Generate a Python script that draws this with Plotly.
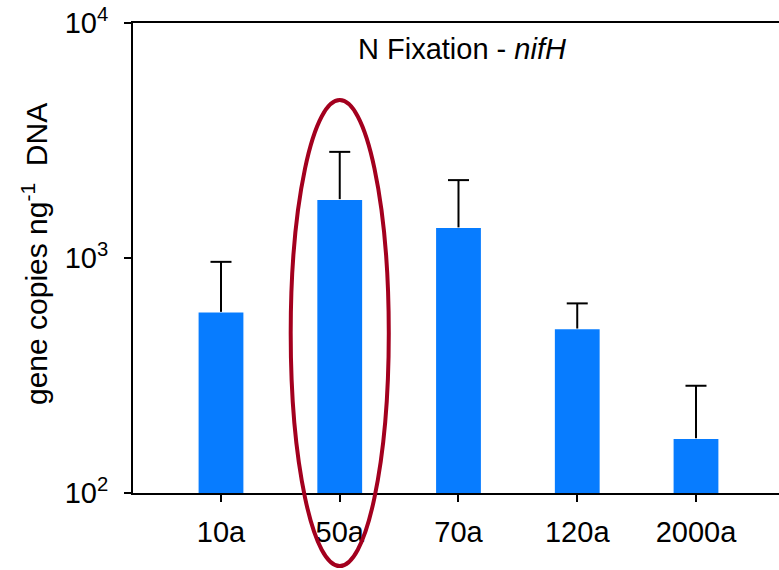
import plotly.graph_objects as go

categories = ["10a", "50a", "70a", "120a", "2000a"]
values = [590, 1780, 1350, 501, 171]
err_plus = [373, 1049, 795, 140, 115]
y_tickvals = [100, 1000, 10000]
y_ticktext = ["10<sup>2</sup>", "10<sup>3</sup>", "10<sup>4</sup>"]

FONT = "Liberation Sans, Arial, sans-serif"
BAR = "#077CFF"
RED = "#A3001E"
FS = 29

x_range = [-0.741, 4.699]
y_range_log = [2, 4]

fig = go.Figure()
fig.add_trace(go.Bar(
    x=categories, y=values, width=0.39,
    marker=dict(color=BAR, line=dict(color="white", width=1.5)),
    error_y=dict(type="data", symmetric=False, array=err_plus,
                 arrayminus=[0] * len(values), width=0, thickness=2, color="black"),
    showlegend=False,
))
tops = [v + e for v, e in zip(values, err_plus)]
fig.add_trace(go.Scatter(
    x=categories, y=tops, mode="markers",
    marker=dict(symbol="line-ew", size=15, line=dict(color="black", width=2)),
    showlegend=False, hoverinfo="skip",
))

def xp(idx):
    return (idx - x_range[0]) / (x_range[1] - x_range[0])

def yp(logv):
    return (logv - y_range_log[0]) / (y_range_log[1] - y_range_log[0])

# highlight ellipse around the 50a bar
hl = categories.index("50a")
fig.add_shape(type="circle", xref="paper", yref="paper",
              x0=xp(hl - 0.413), x1=xp(hl + 0.413),
              y0=yp(1.689), y1=yp(3.672),
              line=dict(color=RED, width=4), layer="above")

fig.add_annotation(text="N Fixation - <i>nifH</i>", xref="paper", yref="paper",
                   x=0.509, y=0.945, showarrow=False, xanchor="center", yanchor="middle",
                   font=dict(family=FONT, size=FS, color="black"))
fig.add_annotation(text="gene copies ng<sup>-1</sup>&nbsp; DNA", xref="paper", yref="paper",
                   x=-0.152, y=0.508, showarrow=False, textangle=-90,
                   xanchor="center", yanchor="middle",
                   font=dict(family=FONT, size=30, color="black"))

fig.update_layout(
    width=779, height=570,
    margin=dict(l=133, r=0, t=23, b=77),
    paper_bgcolor="white", plot_bgcolor="white",
    font=dict(family=FONT, size=FS, color="black"),
    bargap=0.6,
    xaxis=dict(type="category", range=x_range, showgrid=False, zeroline=False,
               showline=True, linecolor="black", linewidth=2, mirror=True,
               ticks="outside", ticklen=7, tickwidth=2, tickcolor="black",
               ticklabelstandoff=5,
               layer="below traces", tickfont=dict(family=FONT, size=FS)),
    yaxis=dict(type="log", range=y_range_log, showgrid=False, zeroline=False,
               showline=True, linecolor="black", linewidth=2,
               ticks="outside", ticklen=7, tickwidth=2, tickcolor="black",
               ticklabelstandoff=10,
               tickvals=y_tickvals, ticktext=y_ticktext,
               tickfont=dict(family=FONT, size=FS)),
)

fig.write_html("out.html")
